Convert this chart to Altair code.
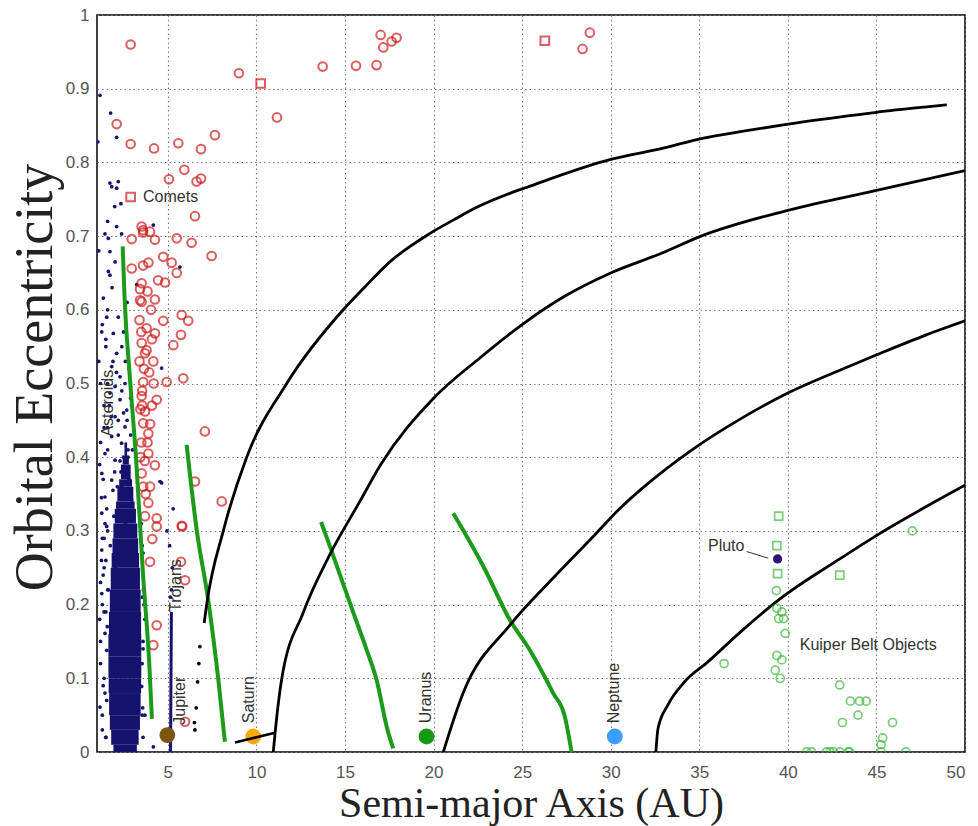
import altair as alt
import pandas as pd

# ---------------- data ----------------
# dense main-belt asteroid cloud (outline of the solid region, by eccentricity)
blob_e = [0.0, 0.01, 0.03, 0.05, 0.08, 0.10, 0.13, 0.16, 0.19, 0.22, 0.25, 0.27, 0.29, 0.31, 0.33,
          0.34, 0.36, 0.37, 0.39, 0.40, 0.42]
blob_left = [2.0, 1.85, 1.75, 1.7, 1.67, 1.65, 1.64, 1.65, 1.7, 1.75, 1.8, 1.85, 1.9, 1.95, 2.05,
             2.1, 2.2, 2.3, 2.4, 2.5, 2.6]
blob_right = [3.2, 3.3, 3.4, 3.45, 3.48, 3.5, 3.5, 3.5, 3.48, 3.45, 3.4, 3.35, 3.3, 3.25, 3.15,
              3.1, 3.0, 2.95, 2.85, 2.75, 2.65]

# scattered asteroids
ast_a = [1.17, 1.77, 2.11, 1.05, 1.73, 1.83, 2.20, 2.11, 2.35, 2.11, 4.18, 1.45, 1.64, 2.39,
         1.73, 2.02, 1.64, 1.73, 5.68, 1.36, 3.24, 1.27, 1.92, 2.11, 1.83, 2.30, 2.02, 2.58,
         1.73, 2.30, 2.68, 2.02, 2.58, 1.83, 2.39, 1.45, 2.02, 2.68, 1.27, 1.83, 2.39, 1.45,
         2.96, 4.65, 1.27, 2.20, 1.60, 2.20, 2.50, 1.50, 2.40, 2.80, 1.40, 2.20, 2.90, 1.60,
         2.50, 1.20, 2.80, 1.60, 1.40, 3.50, 3.60, 1.30, 1.27, 1.45, 1.17, 1.55, 3.52, 4.18,
         1.27, 1.55, 3.60, 3.70, 1.20, 4.65, 4.56, 1.35, 1.50, 3.65, 3.55, 1.15, 1.30]
ast_e = [0.891, 0.867, 0.834, 0.828, 0.772, 0.767, 0.774, 0.765, 0.744, 0.713, 0.715, 0.703, 0.697, 0.703,
         0.679, 0.665, 0.652, 0.647, 0.658, 0.616, 0.634, 0.570, 0.568, 0.541, 0.523, 0.509, 0.496, 0.500,
         0.487, 0.478, 0.464, 0.455, 0.441, 0.428, 0.419, 0.405, 0.396, 0.387, 0.378, 0.369, 0.360, 0.346,
         0.342, 0.365, 0.324, 0.333, 0.600, 0.590, 0.570, 0.550, 0.550, 0.520, 0.470, 0.450, 0.430, 0.440,
         0.400, 0.420, 0.370, 0.300, 0.250, 0.310, 0.240, 0.200, 0.215, 0.161, 0.061, 0.138, 0.089, 0.007,
         0.274, 0.306, 0.150, 0.050, 0.120, 0.521, 0.367, 0.090, 0.020, 0.200, 0.280, 0.180, 0.030]
ast_more_a = [1.30, 1.50, 1.90, 2.10, 2.60, 2.90, 1.20, 1.70, 2.40, 2.70, 1.40, 1.80, 2.20, 2.50, 3.00,
              1.15, 1.60, 2.00, 2.30, 2.75, 1.35, 1.90, 2.45, 2.85, 1.25, 1.55, 2.15, 2.65, 1.45, 1.95,
              2.55, 3.05, 1.30, 1.75, 2.25, 2.90, 1.50, 2.05, 2.60, 1.20, 1.65, 2.35, 1.40, 1.85, 2.70,
              1.10, 1.60, 2.00, 1.30, 1.40, 1.20, 1.50, 1.35, 1.50, 3.60, 3.55, 3.70, 3.60, 1.45, 1.25,
              3.58, 1.40, 3.62, 1.55, 2.75, 2.95, 1.10, 1.60, 1.55, 1.58, 3.55, 3.60, 1.60, 3.57]
ast_more_e = [0.580, 0.560, 0.530, 0.515, 0.530, 0.480, 0.500, 0.470, 0.490, 0.450, 0.440, 0.455, 0.430, 0.460, 0.410,
              0.390, 0.410, 0.380, 0.395, 0.400, 0.370, 0.355, 0.380, 0.350, 0.345, 0.330, 0.360, 0.325, 0.310, 0.320,
              0.335, 0.300, 0.290, 0.280, 0.295, 0.270, 0.260, 0.250, 0.310, 0.230, 0.220, 0.380, 0.190, 0.630, 0.610,
              0.680, 0.720, 0.740, 0.050, 0.100, 0.150, 0.190, 0.240, 0.020, 0.020, 0.120, 0.180, 0.270, 0.080, 0.260,
              0.060, 0.290, 0.220, 0.590, 0.410, 0.470, 0.530, 0.500, 0.070, 0.170, 0.050, 0.140, 0.220, 0.210]

# Trojans
troj_a = [5.15, 5.20]
troj_e = [0.0, 0.19]
troj_dot_a = [5.20, 5.25, 5.10, 5.30, 4.95, 5.15]
troj_dot_e = [0.22, 0.25, 0.28, 0.33, 0.30, 0.21]

# comets
comet_a = [2.90, 9.01, 10.24, 11.16, 13.74, 15.62, 16.78, 17.01, 17.16, 17.63, 17.91, 26.28, 28.41, 28.82,
           2.11, 7.66, 2.90, 4.22, 5.59, 6.87, 5.93, 5.06, 6.62, 6.87, 2.90, 6.53, 3.52, 3.60, 3.99,
           4.27, 2.96, 5.50, 6.34, 7.47, 4.74, 5.21, 5.50, 3.90, 2.96, 4.84, 3.52, 3.43, 3.43, 4.27,
           3.52, 5.78, 6.15, 4.74, 3.40, 4.27, 5.74, 5.31, 3.52, 3.71, 4.18, 3.40, 4.93, 5.87, 3.61,
           4.37, 3.52, 3.71, 3.61, 7.09, 3.90, 3.90, 4.27, 3.52, 6.53, 3.61, 8.04, 3.90, 4.37, 5.78,
           3.71, 4.37, 5.81, 4.12, 3.99, 5.74, 5.97, 4.37, 4.18, 5.97, 3.80, 4.05, 3.65, 4.10, 3.55,
           3.85, 4.00, 3.45, 3.75, 4.45, 3.60, 3.50, 3.55, 3.80, 4.10, 3.95, 3.45, 3.70, 4.20, 3.50,
           3.85, 3.60, 4.00]
comet_e = [0.960, 0.921, 0.907, 0.861, 0.930, 0.931, 0.932, 0.973, 0.956, 0.964, 0.969, 0.965, 0.954, 0.976,
           0.852, 0.837, 0.825, 0.819, 0.826, 0.818, 0.790, 0.777, 0.774, 0.778, 0.753, 0.727, 0.713, 0.708, 0.706,
           0.695, 0.696, 0.697, 0.691, 0.673, 0.672, 0.664, 0.650, 0.664, 0.656, 0.637, 0.636, 0.628, 0.613, 0.614,
           0.611, 0.593, 0.585, 0.585, 0.586, 0.568, 0.566, 0.552, 0.555, 0.541, 0.530, 0.530, 0.502, 0.507, 0.502,
           0.478, 0.483, 0.462, 0.446, 0.435, 0.432, 0.405, 0.389, 0.378, 0.367, 0.360, 0.340, 0.338, 0.317, 0.307,
           0.320, 0.306, 0.306, 0.289, 0.258, 0.258, 0.233, 0.172, 0.145, 0.041, 0.575, 0.600, 0.520, 0.470, 0.470,
           0.420, 0.445, 0.400, 0.350, 0.640, 0.660, 0.570, 0.490, 0.545, 0.560, 0.515, 0.465, 0.395, 0.500, 0.420,
           0.625, 0.705, 0.360]
comet_shape = ["circle"] * len(comet_a)
for i in (2, 11, 24):
    comet_shape[i] = "square"

# perihelion-limit (black) and aphelion-limit (green) loci
black1_a = [7.05, 7.19, 8.13, 9.45, 11.71, 14.9, 16.08, 17.58, 19.82, 21.13, 22.44, 24.31, 25.24, 30.0,
            32.9, 35.24, 37.4, 39.74, 43.39, 45.0, 47.7, 48.97]
black1_e = [0.175, 0.20, 0.30, 0.40, 0.50, 0.60, 0.630, 0.666, 0.704, 0.722, 0.739, 0.758, 0.766, 0.804,
            0.819, 0.833, 0.842, 0.851, 0.863, 0.868, 0.875, 0.878]
black1_dot_a = [6.53, 6.60, 6.68, 6.75, 6.81, 6.50]
black1_dot_e = [0.030, 0.060, 0.095, 0.120, 0.143, 0.040]
black2_a = [10.95, 11.05, 11.42, 12.64, 14.15, 15.84, 17.02, 20.0, 22.63, 25.0, 27.3, 30.0, 32.9, 35.0,
            40.0, 45.0, 50.0]
black2_e = [0.0, 0.025, 0.098, 0.189, 0.268, 0.340, 0.390, 0.480, 0.535, 0.580, 0.617, 0.650, 0.677,
            0.699, 0.735, 0.762, 0.789]
black3_a = [20.55, 20.64, 21.67, 24.31, 26.75, 29.0, 30.5, 31.74, 34.53, 37.33, 40.0, 42.93, 45.02, 47.6, 50.0]
black3_e = [0.0, 0.007, 0.080, 0.172, 0.236, 0.292, 0.330, 0.357, 0.409, 0.452, 0.487, 0.518, 0.539, 0.564, 0.585]
black4_a = [32.55, 32.67, 33.23, 34.16, 35.47, 37.33, 39.57, 42.93, 45.02, 47.59, 50.0]
black4_e = [0.0, 0.032, 0.064, 0.095, 0.122, 0.163, 0.208, 0.262, 0.294, 0.330, 0.362]

green1_a = [2.45, 2.55, 2.85, 3.20, 3.60, 3.95, 4.10]
green1_e = [0.686, 0.62, 0.51, 0.40, 0.24, 0.12, 0.045]
green2_a = [6.06, 6.63, 7.28, 7.85, 8.22]
green2_e = [0.417, 0.301, 0.206, 0.098, 0.014]
green3_a = [13.65, 14.15, 15.47, 16.2, 16.78, 17.4, 17.72]
green3_e = [0.312, 0.279, 0.189, 0.14, 0.098, 0.030, 0.005]
green4_a = [21.11, 22.83, 24.31, 25.44, 26.75, 27.41, 27.79]
green4_e = [0.324, 0.251, 0.179, 0.138, 0.080, 0.048, 0.0]

# Kuiper belt objects
kbo_a = [39.48, 39.38, 39.42, 42.93, 39.35, 39.38, 39.66, 39.48, 39.76, 39.85, 36.40, 39.38, 39.66,
         39.29, 39.57, 47.03, 42.93, 43.53, 44.05, 44.42, 43.96, 43.08, 45.91, 45.26, 45.35,
         41.06, 41.34, 42.18, 42.37, 42.56, 42.93, 43.40, 43.49, 45.26, 46.66]
kbo_e = [0.320, 0.280, 0.242, 0.240, 0.219, 0.195, 0.190, 0.181, 0.181, 0.161, 0.120, 0.131, 0.125,
         0.111, 0.100, 0.300, 0.091, 0.069, 0.069, 0.069, 0.050, 0.040, 0.040, 0.010, 0.019,
         0.0, 0.0, 0.0, 0.0, 0.0, 0.0, 0.0, 0.0, 0.0, 0.0]
kbo_shape = ["square", "square", "square", "square"] + ["circle"] * 31

pluto_a = [39.42]
pluto_e = [0.262]
pluto_lead_a = [37.67, 38.89]
pluto_lead_e = [0.272, 0.263]

planet_names = ["Jupiter", "Saturn", "Uranus", "Neptune"]
planet_a = [4.97, 9.82, 19.60, 30.23]
planet_e = [0.023, 0.021, 0.021, 0.021]
planet_colors = ["#7d5512", "#f7ab00", "#169a16", "#3a9ffa"]
ring_a = [8.79, 11.05]
ring_e = [0.013, 0.026]

vlabel_text = ["Jupiter", "Trojans", "Saturn", "Uranus", "Neptune", "Asteroids"]
vlabel_a = [5.68, 5.45, 9.58, 19.60, 30.20, 1.64]
vlabel_e = [0.037, 0.19, 0.039, 0.039, 0.039, 0.428]
hlabel_left_text = ["Comets", "Kuiper Belt Objects"]
hlabel_left_a = [3.60, 40.67]
hlabel_left_e = [0.753, 0.145]
hlabel_right_text = ["Pluto"]
hlabel_right_a = [37.55]
hlabel_right_e = [0.279]

x_ticks = [5, 10, 15, 20, 25, 30, 35, 40, 45, 50]
y_ticks = [0, 0.1, 0.2, 0.3, 0.4, 0.5, 0.6, 0.7, 0.8, 0.9, 1]

# ---------------- tables ----------------
def line_table(pairs):
    rows = []
    for name, xs, ys in pairs:
        for i, (xx, yy) in enumerate(zip(xs, ys)):
            rows.append({"id": name, "i": i, "a": xx, "e": yy})
    return pd.DataFrame(rows)

# the blob is drawn as stacked slices between successive outline rows
blob = pd.DataFrame({
    "e": blob_e[:-1], "e2": blob_e[1:],
    "a": [(p + q) / 2 for p, q in zip(blob_left[:-1], blob_left[1:])],
    "r": [(p + q) / 2 for p, q in zip(blob_right[:-1], blob_right[1:])],
})
ast = pd.DataFrame({"a": ast_a + ast_more_a + troj_dot_a, "e": ast_e + ast_more_e + troj_dot_e})
troj = pd.DataFrame({"a": troj_a, "e": troj_e})
comets = pd.DataFrame({"a": comet_a, "e": comet_e, "shape": comet_shape})
blacks = line_table([("b1", black1_a, black1_e), ("b2", black2_a, black2_e),
                     ("b3", black3_a, black3_e), ("b4", black4_a, black4_e)])
bdots = pd.DataFrame({"a": black1_dot_a, "e": black1_dot_e})
greens = line_table([("g1", green1_a, green1_e), ("g2", green2_a, green2_e),
                     ("g3", green3_a, green3_e), ("g4", green4_a, green4_e)])
kbo = pd.DataFrame({"a": kbo_a, "e": kbo_e, "shape": kbo_shape})
pluto = pd.DataFrame({"a": pluto_a, "e": pluto_e})
lead = pd.DataFrame({"a": pluto_lead_a, "e": pluto_lead_e})
planets = pd.DataFrame({"name": planet_names, "a": planet_a, "e": planet_e, "c": planet_colors})
ring = pd.DataFrame({"a": ring_a, "e": ring_e})
vlab = pd.DataFrame({"t": vlabel_text, "a": vlabel_a, "e": vlabel_e})
hlab_l = pd.DataFrame({"t": hlabel_left_text, "a": hlabel_left_a, "e": hlabel_left_e})
hlab_r = pd.DataFrame({"t": hlabel_right_text, "a": hlabel_right_a, "e": hlabel_right_e})

X = alt.X("a:Q", scale=alt.Scale(domain=[1, 50], nice=False, zero=False),
          axis=alt.Axis(values=x_ticks, title="Semi-major Axis (AU)"))
Y = alt.Y("e:Q", scale=alt.Scale(domain=[0, 1], nice=False),
          axis=alt.Axis(values=y_ticks, format=".1~f", title="Orbital Eccentricity"))
NAVY = "#16136e"

blob_layer = alt.Chart(blob).mark_rect(color=NAVY, clip=True).encode(
    x=X, x2="r:Q", y=Y, y2="e2:Q")
troj_layer = alt.Chart(troj).mark_line(color=NAVY, strokeWidth=3, clip=True).encode(x=X, y=Y)
ast_layer = alt.Chart(ast).mark_circle(color=NAVY, size=14, opacity=1, clip=True).encode(x=X, y=Y)
comet_layer = alt.Chart(comets).mark_point(color="#cc1a1a", size=75, strokeWidth=2, filled=False, clip=True).encode(
    x=X, y=Y, shape=alt.Shape("shape:N", scale=None))
green_layer = alt.Chart(greens).mark_line(color="#1b9a1b", strokeWidth=4, interpolate="monotone", clip=True).encode(
    x=X, y=Y, detail="id:N", order="i:Q")
black_layer = alt.Chart(blacks).mark_line(color="black", strokeWidth=2.8, interpolate="monotone", clip=True).encode(
    x=X, y=Y, detail="id:N", order="i:Q")
bdot_layer = alt.Chart(bdots).mark_circle(color="black", size=14, opacity=1, clip=True).encode(x=X, y=Y)
kbo_layer = alt.Chart(kbo).mark_point(color="#3fb83f", size=65, strokeWidth=1.7, filled=False, clip=True).encode(
    x=X, y=Y, shape=alt.Shape("shape:N", scale=None))
pluto_layer = alt.Chart(pluto).mark_circle(color="#2b1470", size=85, opacity=1).encode(x=X, y=Y)
lead_layer = alt.Chart(lead).mark_line(color="#333333", strokeWidth=1).encode(x=X, y=Y)
planet_layer = alt.Chart(planets).mark_circle(size=250, opacity=1).encode(
    x=X, y=Y, color=alt.Color("c:N", scale=None))
ring_layer = alt.Chart(ring).mark_line(color="black", strokeWidth=2.5).encode(x=X, y=Y)
vlab_layer = alt.Chart(vlab).mark_text(angle=270, align="left", baseline="middle", fontSize=16,
                                        font="Liberation Sans", color="#333333").encode(x=X, y=Y, text="t:N")
hlab_l_layer = alt.Chart(hlab_l).mark_text(align="left", baseline="middle", fontSize=16,
                                            font="Liberation Sans", color="#333333").encode(x=X, y=Y, text="t:N")
hlab_r_layer = alt.Chart(hlab_r).mark_text(align="right", baseline="middle", fontSize=16,
                                            font="Liberation Sans", color="#333333").encode(x=X, y=Y, text="t:N")

chart = alt.layer(
    blob_layer, troj_layer, ast_layer, comet_layer, green_layer, black_layer, bdot_layer,
    kbo_layer, pluto_layer, lead_layer, planet_layer, ring_layer, vlab_layer, hlab_l_layer, hlab_r_layer
).properties(
    width=868, height=737,
    autosize=alt.AutoSizeParams(type="none"),
    padding={"left": 89, "top": 7, "right": 5, "bottom": 74},
).configure_view(
    stroke="black", strokeWidth=1.5
).configure_axis(
    grid=True, gridColor="#7a7a7a", gridDash=[1.5, 3], gridWidth=1.1,
    domain=False, ticks=False,
    labelFont="Liberation Sans", labelFontSize=17, labelColor="#555555",
    titleFont="Liberation Serif", titleFontWeight="normal", titleColor="#222222",
).configure_axisX(
    labelPadding=12, titleFontSize=42, titleY=64, titleBaseline="alphabetic",
).configure_axisY(
    labelPadding=8, titleFontSize=54, titleX=-62, titleY=362, titleBaseline="middle",
    titleAlign="center", titleAngle=270,
)

chart.save("out.html", embed_options={"renderer": "svg", "actions": False})
